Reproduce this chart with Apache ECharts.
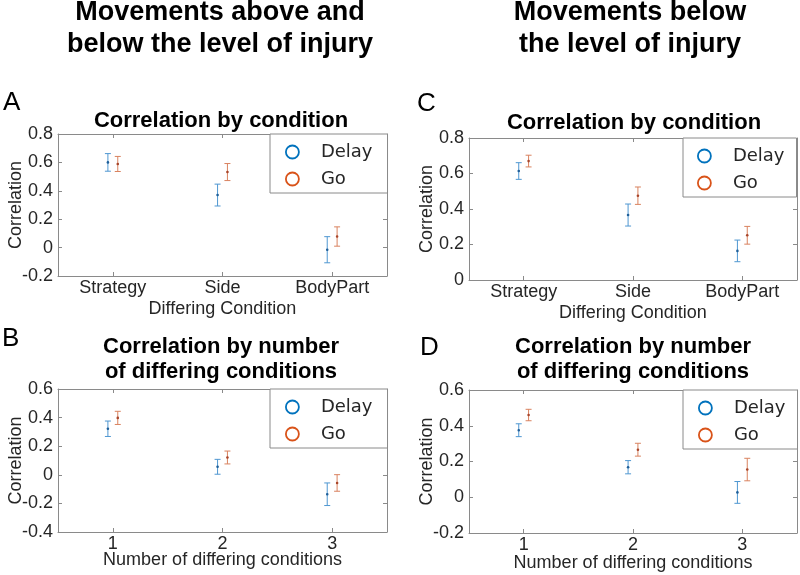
<!DOCTYPE html>
<html>
<head>
<meta charset="utf-8">
<script src="https://cdn.jsdelivr.net/npm/echarts@6/dist/echarts.min.js"></script>
<style>html,body{margin:0;padding:0;background:#fff;}#main{width:800px;height:575px;}</style>
</head>
<body>
<div id="main"></div>
<script>
// ---- data ----
const conditionCats = ['Strategy', 'Side', 'BodyPart'];
const numberCats = ['1', '2', '3'];
const seriesNames = ['Delay', 'Go'];

// Panel A: movements above and below, by condition
const aDelayMean = [0.600, 0.370, -0.015];
const aDelayErr  = [0.062, 0.077, 0.092];
const aGoMean    = [0.589, 0.532, 0.078];
const aGoErr     = [0.053, 0.060, 0.068];
// Panel C: movements below, by condition
const cDelayMean = [0.614, 0.366, 0.164];
const cDelayErr  = [0.047, 0.062, 0.061];
const cGoMean    = [0.670, 0.475, 0.252];
const cGoErr     = [0.033, 0.049, 0.050];
// Panel B: movements above and below, by number of differing conditions
const bDelayMean = [0.322, 0.056, -0.136];
const bDelayErr  = [0.054, 0.052, 0.079];
const bGoMean    = [0.398, 0.121, -0.057];
const bGoErr     = [0.046, 0.045, 0.058];
// Panel D: movements below, by number of differing conditions
const dDelayMean = [0.375, 0.168, 0.027];
const dDelayErr  = [0.036, 0.037, 0.061];
const dGoMean    = [0.460, 0.266, 0.155];
const dGoErr     = [0.032, 0.036, 0.063];

// y-axis ranges
const yRanges = [
  {min: -0.2, max: 0.8, interval: 0.2},  // A
  {min: 0,    max: 0.8, interval: 0.2},  // C
  {min: -0.4, max: 0.6, interval: 0.2},  // B
  {min: -0.2, max: 0.6, interval: 0.2}   // D
];

// ---- styling ----
const FONT = "'Liberation Sans', Arial, Helvetica, sans-serif";
const AXIS_COLOR = '#8a8a8a';
const TEXT_COLOR = '#262626';
const DELAY_LINE = '#4f97d1';
const GO_LINE = '#d9825f';
const DELAY_DOT = '#1f5f99';
const GO_DOT = '#a8452a';
const DELAY_LEG = '#0072BD';
const GO_LEG = '#D95319';

const grids = [
  {left: 58,  top: 134, width: 329, height: 142},
  {left: 469, top: 138, width: 328, height: 142},
  {left: 58,  top: 389, width: 329, height: 143},
  {left: 469, top: 390, width: 328, height: 143}
];
const xCats = [conditionCats, conditionCats, numberCats, numberCats];
const xNames = ['Differing Condition', 'Differing Condition', 'Number of differing conditions', 'Number of differing conditions'];
const xNameGaps = [24, 24, 19, 21];

const xAxes = [], yAxes = [];
grids.forEach((g, i) => {
  xAxes.push({
    type: 'category', gridIndex: i, data: xCats[i], position: 'bottom', boundaryGap: true,
    axisLine: {show: true, onZero: false, lineStyle: {color: AXIS_COLOR, width: 1}},
    axisTick: {show: true, inside: true, alignWithLabel: true, length: 4, lineStyle: {color: AXIS_COLOR}},
    axisLabel: {color: TEXT_COLOR, fontSize: 18, fontFamily: FONT, margin: 3},
    splitLine: {show: false},
    name: xNames[i], nameLocation: 'middle', nameGap: xNameGaps[i], nameMoveOverlap: false,
    nameTextStyle: {color: TEXT_COLOR, fontSize: 18, fontFamily: FONT}
  });
  xAxes.push({
    type: 'category', gridIndex: i, data: xCats[i], position: 'top', boundaryGap: true,
    axisLine: {show: true, onZero: false, lineStyle: {color: AXIS_COLOR, width: 1}},
    axisTick: {show: true, inside: true, alignWithLabel: true, length: 4, lineStyle: {color: AXIS_COLOR}},
    axisLabel: {show: false}, splitLine: {show: false}
  });
  const r = yRanges[i];
  yAxes.push({
    type: 'value', gridIndex: i, position: 'left', min: r.min, max: r.max, interval: r.interval,
    axisLine: {show: true, onZero: false, lineStyle: {color: AXIS_COLOR, width: 1}},
    axisTick: {show: true, inside: true, length: 4, lineStyle: {color: AXIS_COLOR}},
    axisLabel: {color: TEXT_COLOR, fontSize: 18, fontFamily: FONT, margin: 5,
      formatter: v => String(Math.round(v * 10) / 10)},
    splitLine: {show: false},
    name: 'Correlation', nameLocation: 'middle', nameGap: 33, nameMoveOverlap: false,
    nameTextStyle: {color: TEXT_COLOR, fontSize: 18, fontFamily: FONT}
  });
  yAxes.push({
    type: 'value', gridIndex: i, position: 'right', min: r.min, max: r.max, interval: r.interval,
    axisLine: {show: true, onZero: false, lineStyle: {color: AXIS_COLOR, width: 1}},
    axisTick: {show: true, inside: true, length: 4, lineStyle: {color: AXIS_COLOR}},
    axisLabel: {show: false}, splitLine: {show: false}
  });
});

function makeData(mean, err) {
  return mean.map((m, k) => [k, m, m - err[k], m + err[k]]);
}

function errRender(offsetFrac, lineColor, dotColor) {
  return function (params, api) {
    const idx = api.value(0);
    const bw = api.size([1, 0])[0];
    const c = api.coord([idx, api.value(1)]);
    const lo = api.coord([idx, api.value(2)]);
    const hi = api.coord([idx, api.value(3)]);
    const x = c[0] + offsetFrac * bw;
    const cap = 3;
    const ls = {stroke: lineColor, lineWidth: 1};
    return {
      type: 'group',
      children: [
        {type: 'line', shape: {x1: x, y1: lo[1], x2: x, y2: hi[1]}, style: ls},
        {type: 'line', shape: {x1: x - cap, y1: lo[1], x2: x + cap, y2: lo[1]}, style: ls},
        {type: 'line', shape: {x1: x - cap, y1: hi[1], x2: x + cap, y2: hi[1]}, style: ls},
        {type: 'circle', shape: {cx: x, cy: c[1], r: 1.3}, style: {fill: dotColor}}
      ]
    };
  };
}

const panelData = [
  [aDelayMean, aDelayErr, aGoMean, aGoErr],
  [cDelayMean, cDelayErr, cGoMean, cGoErr],
  [bDelayMean, bDelayErr, bGoMean, bGoErr],
  [dDelayMean, dDelayErr, dGoMean, dGoErr]
];

const series = [];
panelData.forEach((p, i) => {
  series.push({
    type: 'custom', name: seriesNames[0], xAxisIndex: 2 * i, yAxisIndex: 2 * i,
    itemStyle: {color: DELAY_LEG},
    renderItem: errRender(-0.045, DELAY_LINE, DELAY_DOT),
    data: makeData(p[0], p[1]), z: 3
  });
  series.push({
    type: 'custom', name: seriesNames[1], xAxisIndex: 2 * i, yAxisIndex: 2 * i,
    itemStyle: {color: GO_LEG},
    renderItem: errRender(0.045, GO_LINE, GO_DOT),
    data: makeData(p[2], p[3]), z: 3
  });
});

const legendPos = [
  {left: 270, top: 134, pl: 15, pr: 15},
  {left: 683, top: 138, pl: 14, pr: 12},
  {left: 270, top: 389, pl: 15, pr: 15},
  {left: 683, top: 390, pl: 15, pr: 12}
];
const legends = legendPos.map(lp => ({
  orient: 'vertical', left: lp.left, top: lp.top,
  padding: [8, lp.pr, 4, lp.pl], itemGap: 7,
  itemWidth: 13, itemHeight: 13,
  backgroundColor: '#ffffff', borderColor: AXIS_COLOR, borderWidth: 1,
  selectedMode: false, z: 10,
  textStyle: {fontFamily: "'DejaVu Sans', sans-serif", fontSize: 18, color: TEXT_COLOR,
    lineHeight: 20, padding: [0, 0, 0, 17]},
  data: [
    {name: seriesNames[0], icon: 'circle', itemStyle: {color: '#ffffff', borderColor: DELAY_LEG, borderWidth: 1.8}},
    {name: seriesNames[1], icon: 'circle', itemStyle: {color: '#ffffff', borderColor: GO_LEG, borderWidth: 1.8}}
  ]
}));

function txt(text, x, y, font, align) {
  return {type: 'text', x: x, y: y, z: 20,
    style: {text: text, font: font, fill: '#000', align: align || 'center', verticalAlign: 'middle'}};
}
const HEAD = "bold 27px " + FONT;
const SUB = "bold 22px " + FONT;
const LET = "26px " + FONT;
const graphics = [
  txt('Movements above and', 220, 13, HEAD),
  txt('below the level of injury', 220, 45, HEAD),
  txt('Movements below', 630, 13, HEAD),
  txt('the level of injury', 630, 45, HEAD),
  txt('Correlation by condition', 221, 121, SUB),
  txt('Correlation by condition', 634, 123, SUB),
  txt('Correlation by number', 221, 347, SUB),
  txt('of differing conditions', 221, 372, SUB),
  txt('Correlation by number', 633, 347, SUB),
  txt('of differing conditions', 633, 372, SUB),
  txt('A', 3, 103, LET, 'left'),
  txt('B', 2, 339, LET, 'left'),
  txt('C', 417, 104, LET, 'left'),
  txt('D', 420, 348, LET, 'left')
];

const chart = echarts.init(document.getElementById('main'), null, {renderer: 'canvas'});
chart.setOption({
  animation: false,
  backgroundColor: '#ffffff',
  grid: grids,
  xAxis: xAxes,
  yAxis: yAxes,
  legend: legends,
  graphic: graphics,
  series: series
});
</script>
</body>
</html>
